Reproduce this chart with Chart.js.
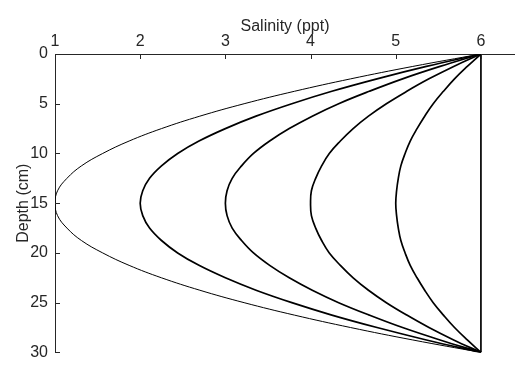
<!DOCTYPE html>
<html lang="en">
<head>
  <meta charset="UTF-8">
  <title>Salinity profile</title>
  <script src="https://cdn.jsdelivr.net/npm/chart.js"></script>
  <style>
    html, body { margin: 0; padding: 0; background: #fff; }
    #wrap { width: 515px; height: 369px; }
  </style>
</head>
<body>
  <div id="wrap"><canvas id="salChart" width="515" height="369"></canvas></div>
  <script>
    // depth samples (cm)
    const depth = [0, 1.25, 2.5, 3.75, 5, 6.25, 7.5, 8.75, 10, 11.25, 12.5, 13.75, 15,
                   16.25, 17.5, 18.75, 20, 21.25, 22.5, 23.75, 25, 26.25, 27.5, 28.75, 30];

    // salinity (ppt)
    const sal1 = [6, 5.20, 4.47, 3.81, 3.22, 2.70, 2.25, 1.87, 1.56, 1.31, 1.14, 1.03, 1.00,
                  1.03, 1.14, 1.31, 1.56, 1.87, 2.25, 2.70, 3.22, 3.81, 4.47, 5.20, 6];
    const sal2 = [6, 5.36, 4.78, 4.25, 3.78, 3.36, 3.00, 2.69, 2.44, 2.25, 2.11, 2.03, 2.00,
                  2.03, 2.11, 2.25, 2.44, 2.69, 3.00, 3.36, 3.78, 4.25, 4.78, 5.36, 6];
    const sal3 = [6, 5.52, 5.08, 4.69, 4.33, 4.02, 3.75, 3.52, 3.33, 3.19, 3.08, 3.02, 3.00,
                  3.02, 3.08, 3.19, 3.33, 3.52, 3.75, 4.02, 4.33, 4.69, 5.08, 5.52, 6];
    const sal4 = [6, 5.68, 5.39, 5.13, 4.89, 4.68, 4.50, 4.35, 4.22, 4.13, 4.06, 4.01, 4.00,
                  4.01, 4.06, 4.13, 4.22, 4.35, 4.50, 4.68, 4.89, 5.13, 5.39, 5.68, 6];
    const sal5 = [6, 5.84, 5.69, 5.56, 5.44, 5.34, 5.25, 5.17, 5.11, 5.06, 5.03, 5.01, 5.00,
                  5.01, 5.03, 5.06, 5.11, 5.17, 5.25, 5.34, 5.44, 5.56, 5.69, 5.84, 6];
    const wallDepth = [0, 30];
    const wallSal = [6, 6];

    const xTicks = [1, 2, 3, 4, 5, 6];
    const yTicks = [0, 5, 10, 15, 20, 25, 30];

    const axisColor = '#262626';
    const font = { family: 'Liberation Sans, Arial, sans-serif', size: 16 };

    function pts(xs, ys) {
      return xs.map((x, i) => ({ x: x, y: ys[i] }));
    }

    function curve(vals, w) {
      return {
        data: pts(vals, depth),
        showLine: true,
        tension: 0.4,
        borderColor: '#000',
        borderWidth: w,
        pointRadius: 0,
        fill: false
      };
    }

    // little tick marks pointing into the plot, like the original
    const innerTicks = {
      id: 'innerTicks',
      afterDraw(chart) {
        const ctx = chart.ctx;
        const x = chart.scales.x, y = chart.scales.y;
        ctx.save();
        ctx.strokeStyle = axisColor;
        ctx.lineWidth = 1;
        ctx.beginPath();
        xTicks.forEach(v => {
          const px = Math.round(x.getPixelForValue(v)) + 0.5;
          ctx.moveTo(px, y.top);
          ctx.lineTo(px, y.top + 5);
        });
        yTicks.forEach(v => {
          const py = Math.round(y.getPixelForValue(v)) + 0.5;
          ctx.moveTo(x.left, py);
          ctx.lineTo(x.left + 5, py);
        });
        ctx.stroke();
        ctx.restore();
      }
    };

    new Chart(document.getElementById('salChart'), {
      type: 'scatter',
      data: {
        datasets: [
          curve(sal1, 1),
          curve(sal2, 1.7),
          curve(sal3, 1.7),
          curve(sal4, 1.7),
          curve(sal5, 1.7),
          {
            data: pts(wallSal, wallDepth),
            showLine: true,
            borderColor: '#000',
            borderWidth: 1.7,
            pointRadius: 0
          }
        ]
      },
      options: {
        responsive: false,
        animation: false,
        layout: { padding: { left: 0, top: 0, right: 0, bottom: 9 } },
        plugins: { legend: { display: false }, tooltip: { enabled: false } },
        scales: {
          x: {
            type: 'linear',
            position: 'top',
            min: 1,
            max: 6.4,
            afterBuildTicks: s => { s.ticks = xTicks.map(v => ({ value: v })); },
            afterFit: s => { s.height = 54; },
            grid: { drawOnChartArea: false, drawTicks: false },
            border: { color: axisColor, width: 1 },
            ticks: { color: axisColor, font: font, padding: 3, maxRotation: 0 },
            title: { display: true, text: 'Salinity (ppt)', color: axisColor, font: font, padding: { top: 17, bottom: 0 } }
          },
          y: {
            type: 'linear',
            reverse: true,
            min: 0,
            max: 30,
            afterBuildTicks: s => { s.ticks = yTicks.map(v => ({ value: v })); },
            afterFit: s => { s.width = 55; },
            grid: { drawOnChartArea: false, drawTicks: false },
            border: { color: axisColor, width: 1 },
            ticks: { color: axisColor, font: font, padding: 7 },
            title: { display: true, text: 'Depth (cm)', color: axisColor, font: font, padding: { top: 14, bottom: 0 } }
          }
        }
      },
      plugins: [innerTicks]
    });
  </script>
</body>
</html>
